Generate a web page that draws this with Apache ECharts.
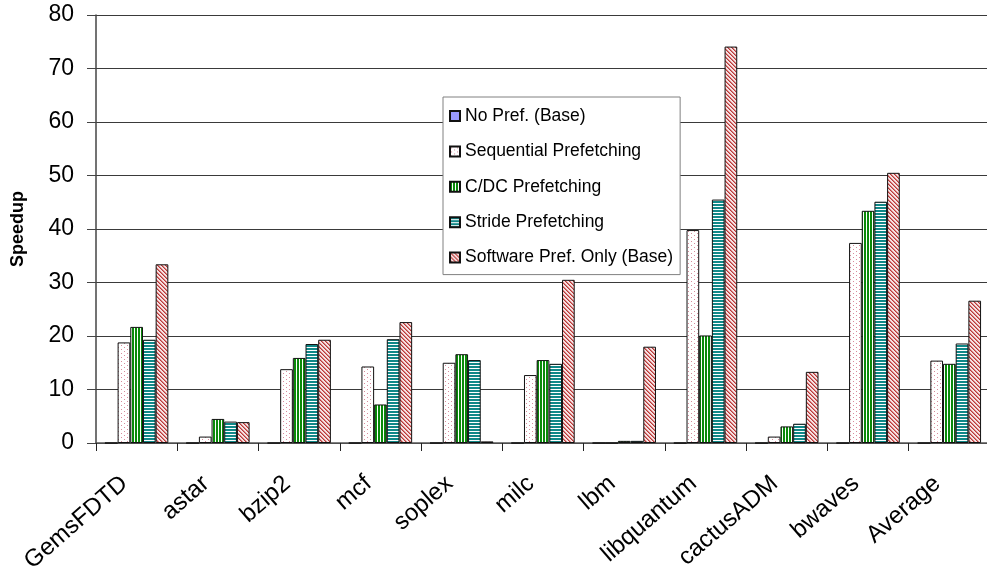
<!DOCTYPE html>
<html>
<head>
<meta charset="utf-8">
<script src="https://cdn.jsdelivr.net/npm/echarts@6/dist/echarts.min.js"></script>
<style>
  html, body { margin: 0; padding: 0; background: #fff; }
  #chart { width: 987px; height: 573px; }
</style>
</head>
<body>
<div id="chart"></div>
<script>
// Benchmarks on the category axis
const categories = ['GemsFDTD', 'astar', 'bzip2', 'mcf', 'soplex', 'milc', 'lbm', 'libquantum', 'cactusADM', 'bwaves', 'Average'];

// Speedup per prefetching scheme
const noPrefBase = [0, 0, 0, 0, 0, 0, 0, 0, 0, 0, 0];
const sequentialPref = [18.8, 1.2, 13.8, 14.3, 15.0, 12.7, 0, 39.8, 1.2, 37.4, 15.4];
const cdcPref = [21.7, 4.5, 15.9, 7.2, 16.6, 15.5, 0.4, 20.1, 3.1, 43.4, 14.8];
const stridePref = [19.3, 4.0, 18.5, 19.4, 15.5, 14.8, 0.4, 45.5, 3.6, 45.1, 18.6];
const softwarePref = [33.4, 3.9, 19.3, 22.6, 0.3, 30.5, 18.0, 74.1, 13.3, 50.5, 26.6];

const seriesNames = ['No Pref. (Base)', 'Sequential Prefetching', 'C/DC Prefetching', 'Stride Prefetching', 'Software Pref. Only (Base)'];

const yTicks = { min: 0, max: 80, interval: 10 };

// Small repeating tiles used as hatch fills
function makeTile(w, h, draw) {
  const c = document.createElement('canvas');
  c.width = w; c.height = h;
  const g = c.getContext('2d');
  draw(g);
  return { image: c, repeat: 'repeat' };
}

const dottedFill = makeTile(6, 4, g => {
  g.fillStyle = '#ffffff'; g.fillRect(0, 0, 6, 4);
  g.fillStyle = '#d88c9c';
  g.fillRect(1, 1, 1, 1);
  g.fillRect(4, 3, 1, 1);
});

const verticalFill = makeTile(3, 1, g => {
  g.fillStyle = '#ffffff'; g.fillRect(0, 0, 3, 1);
  g.fillStyle = '#0a8a0a'; g.fillRect(0, 0, 2, 1);
});

const horizontalFill = makeTile(1, 3, g => {
  g.fillStyle = '#ffffff'; g.fillRect(0, 0, 1, 3);
  g.fillStyle = '#108888'; g.fillRect(0, 0, 1, 2);
});

const diagonalFill = makeTile(4, 4, g => {
  g.fillStyle = '#f6e2e2'; g.fillRect(0, 0, 4, 4);
  for (let i = 0; i < 4; i++) {
    g.fillStyle = '#b83a3a'; g.fillRect(i, i, 1, 1);
    g.fillStyle = '#d98080'; g.fillRect((i + 1) % 4, i, 1, 1);
  }
});

const fills = ['#9999ff', dottedFill, verticalFill, horizontalFill, diagonalFill];
const values = [noPrefBase, sequentialPref, cdcPref, stridePref, softwarePref];

const font = "'Liberation Sans', Arial, sans-serif";

const chart = echarts.init(document.getElementById('chart'), null, { renderer: 'canvas' });

chart.setOption({
  animation: false,
  backgroundColor: '#ffffff',
  grid: { left: 96, right: -3, top: 15, bottom: 130, containLabel: false, outerBoundsMode: 'none' },
  legend: {
    orient: 'vertical',
    left: 443,
    top: 97,
    padding: [10, 7, 8, 6],
    itemWidth: 10,
    itemHeight: 10,
    itemGap: 17.4,
    backgroundColor: '#ffffff',
    borderColor: '#808080',
    borderWidth: 1,
    icon: 'rect',
    textStyle: { fontFamily: font, fontSize: 17.5, color: '#000', lineHeight: 18 },
    data: seriesNames
  },
  xAxis: {
    type: 'category',
    data: categories,
    boundaryGap: true,
    axisLine: { lineStyle: { color: '#555', width: 1.5 } },
    axisTick: { show: true, length: 8, alignWithLabel: false, lineStyle: { color: '#222' } },
    axisLabel: {
      rotate: 41, fontFamily: font, fontSize: 24, color: '#000',
      margin: 27, padding: [0, 16, 0, 0], interval: 0
    }
  },
  yAxis: {
    type: 'value',
    min: yTicks.min,
    max: yTicks.max,
    interval: yTicks.interval,
    name: 'Speedup',
    nameLocation: 'middle',
    nameRotate: 90,
    nameGap: 69,
    nameTextStyle: { fontFamily: font, fontSize: 18, fontWeight: 'bold', color: '#000' },
    axisLine: { show: true, lineStyle: { color: '#444', width: 1.5 } },
    axisTick: { show: true, inside: false, length: 9, lineStyle: { color: '#444' } },
    axisLabel: { fontFamily: font, fontSize: 23, color: '#000', margin: 22 },
    splitLine: { show: true, lineStyle: { color: '#3a3a3a', width: 1 } }
  },
  series: seriesNames.map((name, i) => ({
    name: name,
    type: 'bar',
    data: values[i],
    barGap: '0%',
    barCategoryGap: '22%',
    itemStyle: { color: fills[i], borderColor: '#111', borderWidth: 1 }
  }))
});
</script>
</body>
</html>
